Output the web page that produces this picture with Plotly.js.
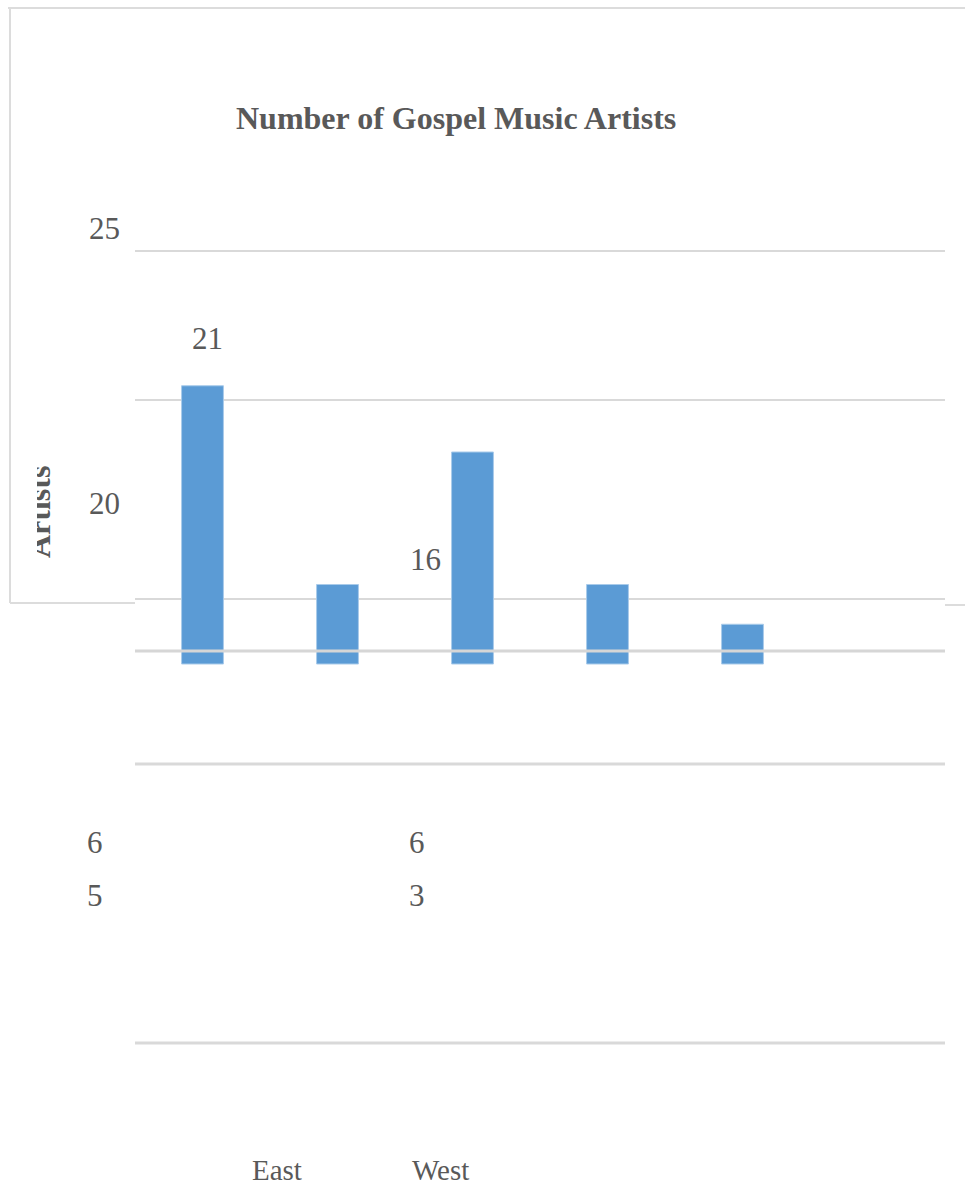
<!DOCTYPE html>
<html>
<head>
<meta charset="utf-8">
<script src="https://cdn.plot.ly/plotly-3.0.1.min.js"></script>
<style>html,body{margin:0;padding:0;background:#fff;}#chart{width:965px;height:1191px;}</style>
</head>
<body>
<div id="chart"></div>
<script>
// ---- data ----
const barIndex = [0, 1, 2, 3, 4];
const artistCounts = [21, 6, 16, 6, 3];
const yTickLabels = ["25", "20", "5"];
const regionLabels = ["East", "West"];
const chartTitle = "Number of Gospel Music Artists";
const yAxisTitle = "Artists";

// ---- layout helpers (page pixels -> paper fractions) ----
const W = 965, H = 1191;
const px = x => x / W;
const py = y => 1 - y / H;
const TXT = "#595959";
const FONT = "Liberation Serif";
const GRID = "#D9D9D9";

function note(text, x, y, size, bold, extra) {
  return Object.assign({
    text: bold ? "<b>" + text + "</b>" : text,
    xref: "paper", yref: "paper", x: px(x), y: py(y),
    xanchor: "center", yanchor: "middle", showarrow: false,
    font: {family: FONT, size: size, color: TXT}
  }, extra || {});
}

// data labels (scattered as in the reference)
const labelPos = [[207, 338], [417, 842], [425, 559], [417, 842], [417, 895]];
const tickPos = [[104, 228], [104, 504], [95, 895]];

const annotations = [];
annotations.push(note(chartTitle, 456, 118, 32, true));
yTickLabels.forEach((t, i) => annotations.push(note(t, tickPos[i][0], tickPos[i][1], 31, false)));
annotations.push(note(String(artistCounts[1]), 95, 842, 31, false));
[0, 2, 3, 4].forEach(i => annotations.push(note(String(artistCounts[i]), labelPos[i][0], labelPos[i][1], 31, false)));
annotations.push(note(regionLabels[0], 277, 1170, 29, false, {borderpad: 0}));
annotations.push(note(regionLabels[1], 440, 1170, 29, false, {borderpad: 0}));
// rotated axis title, partially hidden
annotations.push(note(yAxisTitle, 39, 512, 32, true, {textangle: -90}));
annotations.push({text: " ", xref: "paper", yref: "paper", x: px(24), y: py(512),
  xanchor: "center", yanchor: "middle", showarrow: false, bgcolor: "#ffffff",
  width: 25, height: 120, borderpad: 0, borderwidth: 0});

function hline(y, x0, x1, w, col, layer) {
  return {type: "line", xref: "paper", yref: "paper", x0: px(x0), x1: px(x1), y0: py(y), y1: py(y),
    line: {color: col || GRID, width: w || 2}, layer: layer || "below"};
}
const shapes = [
  hline(251, 135, 945), hline(400, 135, 945), hline(599, 135, 945),
  hline(764, 135, 945, 3), hline(1043, 135, 945, 3),
  hline(651, 135, 945, 3, "#D6D6D6", "above"),
  // chart frame pieces
  hline(8, 8, 965, 2, "#DCDCDC"),
  {type: "line", xref: "paper", yref: "paper", x0: px(10), x1: px(10), y0: py(8), y1: py(603),
    line: {color: "#DCDCDC", width: 2}, layer: "below"},
  hline(603, 10, 135, 2, "#DCDCDC"),
  hline(605, 945, 965, 2, "#DCDCDC")
];

const pxPerUnit = 13.25, zeroPx = 664;
const trace = {
  type: "bar", x: barIndex, y: artistCounts, width: 0.31,
  marker: {color: "#5B9BD5", line: {color: "#A9CBEA", width: 1}},
  hoverinfo: "skip", showlegend: false
};
const layout = {
  width: W, height: H, margin: {l: 0, r: 0, t: 0, b: 0},
  paper_bgcolor: "#ffffff", plot_bgcolor: "rgba(0,0,0,0)",
  font: {family: FONT},
  xaxis: {domain: [px(135), px(945)], range: [-0.5, 5.5], visible: false, fixedrange: true},
  yaxis: {domain: [0, 1], range: [-(H - zeroPx) / pxPerUnit, zeroPx / pxPerUnit],
    visible: false, showgrid: false, zeroline: false, fixedrange: true},
  shapes: shapes, annotations: annotations, showlegend: false
};
Plotly.newPlot("chart", [trace], layout, {displayModeBar: false, staticPlot: true});
</script>
</body>
</html>
